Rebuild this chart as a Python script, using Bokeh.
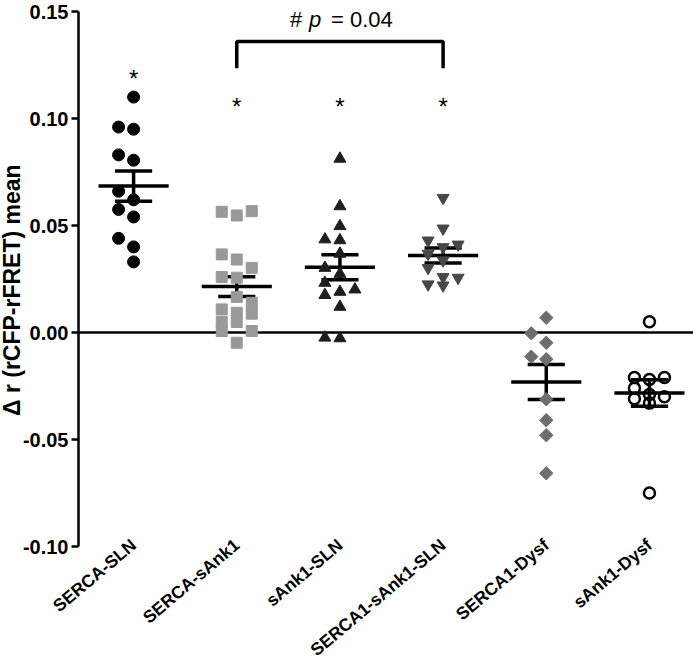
import math
import numpy as np
from bokeh.plotting import figure
from bokeh.models import Range1d, FixedTicker, NumeralTickFormatter, Span, Label, Title
from bokeh.embed import file_html
from bokeh.resources import INLINE

# ---------------- data ----------------
groups = ["SERCA-SLN", "SERCA-sAnk1", "sAnk1-SLN", "SERCA1-sAnk1-SLN", "SERCA1-Dysf", "sAnk1-Dysf"]
serca_sln = [0.110, 0.096, 0.095, 0.083, 0.0805, 0.066, 0.062, 0.0575, 0.054, 0.044, 0.040, 0.033]
serca_sank1 = [0.0567, 0.0564, 0.0547, 0.0365, 0.0341, 0.0302, 0.0259, 0.0256, 0.0166, 0.0139,
               0.0108, 0.0092, 0.0088, 0.0050, 0.0049, 0.0007, 0.0007, -0.0048]
sank1_sln = [0.0812, 0.059, 0.0497, 0.0435, 0.0431, 0.0368, 0.0302, 0.0274, 0.0232, 0.0201,
             0.019, 0.0175, 0.012, -0.0024, -0.0027]
serca1_sank1_sln = [0.0629, 0.0486, 0.043, 0.0411, 0.0399, 0.0368, 0.0337, 0.0302, 0.0259,
                    0.0256, 0.0225, 0.022]
serca1_dysf = [0.0069, -0.0004, -0.0048, -0.0113, -0.0125, -0.0312, -0.041, -0.048, -0.0658]
sank1_dysf = [0.005, -0.021, -0.021, -0.022, -0.026, -0.029, -0.030, -0.031, -0.033, -0.075]
series = [serca_sln, serca_sank1, sank1_sln, serca1_sank1_sln, serca1_dysf, sank1_dysf]

y_ticks = [-0.10, -0.05, 0.0, 0.05, 0.10, 0.15]
y_title = "Δ r  (rCFP-rFRET) mean"
star_groups = [1, 2, 3, 4]          # groups marked with *
star_levels = [0.1185, 0.1058, 0.1058, 0.1058]
bracket_from, bracket_to = 2, 4
bracket_top, bracket_leg = 0.136, 0.1235
p_text_level = 0.1462

# ---------------- layout ----------------
W, H = 693, 672
BL, BT, BB = 78, 11, 110
AX_BOTTOM_PX = 546                 # figure-pixel row of the -0.10 tick
LABEL_STANDOFF = -20               # rotated category labels pulled up into the empty frame strip
TITLE_CENTER_PX = 224              # vertical centre of the y title
x_lo, x_hi = 0.466, 6.427
y_min_tick, y_hi = -0.10, 0.15
ypx = (AX_BOTTOM_PX - BT) / (y_hi - y_min_tick)
frame_bottom = H - BB
y_lo = y_min_tick - (frame_bottom - AX_BOTTOM_PX) / ypx
xpx = (W - BL) / (x_hi - x_lo)

FONT = "Liberation Sans"

p = figure(width=W, height=H, x_range=Range1d(x_lo, x_hi), y_range=Range1d(y_lo, y_hi),
           output_backend="svg", toolbar_location=None,
           min_border_left=BL, min_border_right=0, min_border_top=BT, min_border_bottom=BB)
p.xgrid.visible = False
p.ygrid.visible = False
p.outline_line_color = None
p.background_fill_color = "white"
p.border_fill_color = "white"

# y axis
ya = p.yaxis[0]
ya.ticker = FixedTicker(ticks=y_ticks)
ya.formatter = NumeralTickFormatter(format="0.00")
ya.bounds = (y_min_tick, y_hi)
ya.axis_line_width = 2.5
ya.major_tick_line_width = 2.5
ya.major_tick_out = 7
ya.major_tick_in = 0
ya.minor_tick_line_color = None
ya.major_label_text_font = FONT
ya.major_label_text_font_style = "bold"
ya.major_label_text_font_size = "20px"
ya.major_label_text_color = "black"
ya.major_label_standoff = 3

# y title as a left-side title (lets us shift it along the axis)
frame_center = (BT + frame_bottom) / 2
ytitle = Title(text=y_title, align="center", offset=frame_center - TITLE_CENTER_PX,
               text_font=FONT, text_font_style="bold", text_font_size="23px",
               text_color="black", standoff=-10)
p.add_layout(ytitle, "left")

# x axis
xa = p.xaxis[0]
xa.ticker = FixedTicker(ticks=list(range(1, len(groups) + 1)))
xa.major_label_overrides = {i + 1: g for i, g in enumerate(groups)}
xa.axis_line_color = None
xa.major_tick_line_color = None
xa.major_tick_out = 0
xa.minor_tick_line_color = None
xa.major_label_orientation = 0.70
xa.major_label_text_font = FONT
xa.major_label_text_font_style = "bold"
xa.major_label_text_font_size = "17.5px"
xa.major_label_text_color = "black"
xa.major_label_standoff = LABEL_STANDOFF

# zero line
p.add_layout(Span(location=0, dimension="width", line_color="black", line_width=2.5, level="underlay"))


def swarm(vals, d=13.0, step=15.0):
    """GraphPad-like column scatter: offsets in data x-units."""
    order = np.argsort(vals)
    placed = []
    offs = np.zeros(len(vals))
    cands = [0.0, -step, step]
    for i in order:
        yp = vals[i] * ypx
        best, best_score = None, -1
        for c in cands:
            md = min([math.hypot(c - px, yp - py) for px, py in placed], default=1e9)
            if md >= d:
                best = c
                break
            if md > best_score:
                best_score, best = md, c
        placed.append((best, yp))
        offs[i] = best / xpx
    return offs


styles = [
    dict(marker="circle", size=12, fill_color="black", line_color="black"),
    dict(marker="square", size=11, fill_color="#999999", line_color="#999999"),
    dict(marker="triangle", size=12, fill_color="#1e1e1e", line_color="#1e1e1e"),
    dict(marker="inverted_triangle", size=12, fill_color="#474747", line_color="#474747"),
    dict(marker="square", size=9.5, angle=math.pi / 4, fill_color="#6e6e6e", line_color="#6e6e6e"),
    dict(marker="circle", size=11, fill_color=None, line_color="black", line_width=2.5),
]

MEAN_HALF = 0.34
SEM_HALF = 0.18
for gi, vals in enumerate(series):
    xc = gi + 1
    v = np.array(vals)
    m = v.mean()
    sem = v.std(ddof=1) / math.sqrt(len(v))
    p.segment(x0=[xc - MEAN_HALF], x1=[xc + MEAN_HALF], y0=[m], y1=[m], line_color="black", line_width=3.5)
    p.segment(x0=[xc - SEM_HALF, xc - SEM_HALF, xc], x1=[xc + SEM_HALF, xc + SEM_HALF, xc],
              y0=[m + sem, m - sem, m - sem], y1=[m + sem, m - sem, m + sem],
              line_color="black", line_width=3.5)
for gi, vals in enumerate(series):
    xc = gi + 1
    v = np.array(vals)
    xs = xc + swarm(v)
    p.scatter(x=xs, y=v, **styles[gi])

# significance stars
for g, lv in zip(star_groups, star_levels):
    p.add_layout(Label(x=g, y=lv, text="*", text_align="center", text_baseline="alphabetic",
                       text_font=FONT, text_font_size="24px", text_color="black"))

# bracket
p.line(x=[bracket_from, bracket_from, bracket_to, bracket_to],
       y=[bracket_leg, bracket_top, bracket_top, bracket_leg], line_color="black", line_width=3.5)

# "# p = 0.04"
p.add_layout(Label(x=3, y=p_text_level, x_offset=-50, text="#", text_baseline="alphabetic",
                   text_font=FONT, text_font_size="22px", text_color="black"))
p.add_layout(Label(x=3, y=p_text_level, x_offset=-31, text="p", text_baseline="alphabetic",
                   text_font=FONT, text_font_style="italic", text_font_size="22px", text_color="black"))
p.add_layout(Label(x=3, y=p_text_level, x_offset=-9, text="= 0.04", text_baseline="alphabetic",
                   text_font=FONT, text_font_size="22px", text_color="black"))

open("out.html", "w").write(file_html(p, INLINE))
